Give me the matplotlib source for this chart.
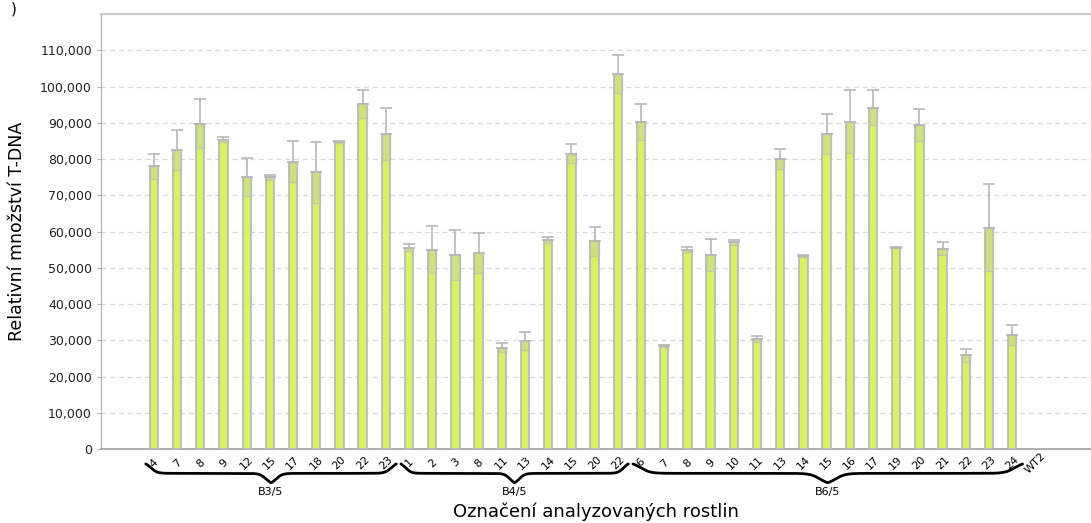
import numpy as np
import matplotlib
matplotlib.use("Agg")
import matplotlib.pyplot as plt
from matplotlib.ticker import FuncFormatter

# plant labels per group
b3_labels = ["4", "7", "8", "9", "12", "15", "17", "18", "20", "22", "23"]
b4_labels = ["1", "2", "3", "8", "11", "13", "14", "15", "20", "22"]
b6_labels = ["6", "7", "8", "9", "10", "11", "13", "14", "15", "16", "17",
             "19", "20", "21", "22", "23", "24"]
wt_labels = ["WT2"]

# relative T-DNA amount (mean) and error
b3_values = [78000, 82500, 89800, 85300, 75000, 75000, 79300, 76300, 84800, 95200, 87000]
b3_errors = [3500, 5500, 6700, 700, 5300, 700, 5600, 8300, 300, 3800, 7200]
b4_values = [55500, 55000, 53500, 54000, 28000, 29800, 57700, 81500, 57300, 103500]
b4_errors = [1000, 6500, 6800, 5500, 1200, 2500, 800, 2700, 4000, 5300]
b6_values = [90300, 28500, 55000, 53500, 57000, 30300, 80000, 53300, 87000, 90300, 94200,
             55600, 89300, 55300, 25800, 61000, 31500]
b6_errors = [5000, 300, 700, 4500, 700, 800, 2800, 300, 5500, 8700, 4800,
             200, 4400, 1700, 1700, 12000, 2700]
wt_values = [0]
wt_errors = [0]

group_names = ["B3/5", "B4/5", "B6/5"]

labels = b3_labels + b4_labels + b6_labels + wt_labels
values = np.array(b3_values + b4_values + b6_values + wt_values, dtype=float)
errors = np.array(b3_errors + b4_errors + b6_errors + wt_errors, dtype=float)
x = np.arange(len(labels))

fig = plt.figure(figsize=(10.91, 5.23), dpi=100)
ax = fig.add_axes([0.0926, 0.1415, 0.9074, 0.8315])

bar_face = "#d6f25c"
bar_edge = "#b4b4c8"
w = 0.36
ax.bar(x, values, width=w, color=bar_face, edgecolor=bar_edge, linewidth=1.2, zorder=3)
# lower half of the error range shown as a greyish band inside the bar
mask = errors > 0
ax.bar(x[mask], errors[mask], bottom=values[mask] - errors[mask], width=w,
       color="#c8d890", alpha=0.6, edgecolor="#b8b8b8", linewidth=1.0, zorder=4)
ax.errorbar(x[mask], values[mask], yerr=[np.zeros(mask.sum()), errors[mask]], fmt="none",
            ecolor="#b8b8b8", elinewidth=1.2, capsize=4, capthick=1.2, zorder=5)

ax.set_xlim(-2.28, 40.4)
ax.set_ylim(0, 120000)
ax.set_yticks(np.arange(0, 110001, 10000))
ax.yaxis.set_major_formatter(FuncFormatter(lambda v, p: f"{int(v):,}"))
ax.grid(axis="y", color="#d8d8d8", linestyle=(0, (4, 3)), linewidth=0.9, zorder=0)
ax.set_axisbelow(True)

ax.spines["right"].set_visible(False)
ax.spines["top"].set_color("#c8c8c8")
ax.spines["top"].set_linewidth(1.5)
ax.spines["left"].set_color("#b0b0b0")
ax.spines["bottom"].set_color("#a0a0a0")
ax.spines["bottom"].set_linewidth(1.2)

ax.tick_params(axis="y", length=3, color="#b0b0b0", labelsize=9, labelcolor="#222222")
ax.set_xticks(x)
ax.set_xticklabels(labels, fontsize=8)
ax.tick_params(axis="x", length=0, pad=10)
for t in ax.get_xticklabels():
    t.set_rotation(45)
    t.set_ha("center")
    t.set_va("center")
    t.set_rotation_mode("anchor")

ax.set_ylabel("Relativní množství T-DNA", fontsize=12.5, labelpad=10)
ax.set_xlabel("Označení analyzovaných rostlin", fontsize=13, va="center")
ax.xaxis.set_label_coords(0.5, -0.145)


def brace(ax, x0, x1, y, h):
    """curly brace from x0 to x1 (data x), y/h in axes coords, pointing down"""
    t = np.linspace(0, 1, 400)
    half = np.where(t < 0.5, t, 1 - t) * 2
    yy = y - h * (1 / (1 + np.exp(-40 * (half - 0.04))) * 0.5
                  + 0.5 / (1 + np.exp(-40 * (half - 0.96))))
    xx = x0 + (x1 - x0) * t
    ax.plot(xx, yy, color="black", lw=2.0, transform=ax.get_xaxis_transform(),
            clip_on=False, solid_capstyle="round")


starts = [0, len(b3_labels), len(b3_labels) + len(b4_labels)]
ends = [len(b3_labels) - 1, len(b3_labels) + len(b4_labels) - 1,
        len(b3_labels) + len(b4_labels) + len(b6_labels) - 1]
for s0, s1, name in zip(starts, ends, group_names):
    brace(ax, s0 - 0.35, s1 + 0.45, -0.03, 0.052)
    ax.text((s0 + s1) / 2 + 0.05, -0.1, name, transform=ax.get_xaxis_transform(),
            ha="center", va="center", fontsize=8)

fig.text(0.01, 0.998, ")", fontsize=11, ha="left", va="top")

fig.savefig("out.png", dpi=100)
